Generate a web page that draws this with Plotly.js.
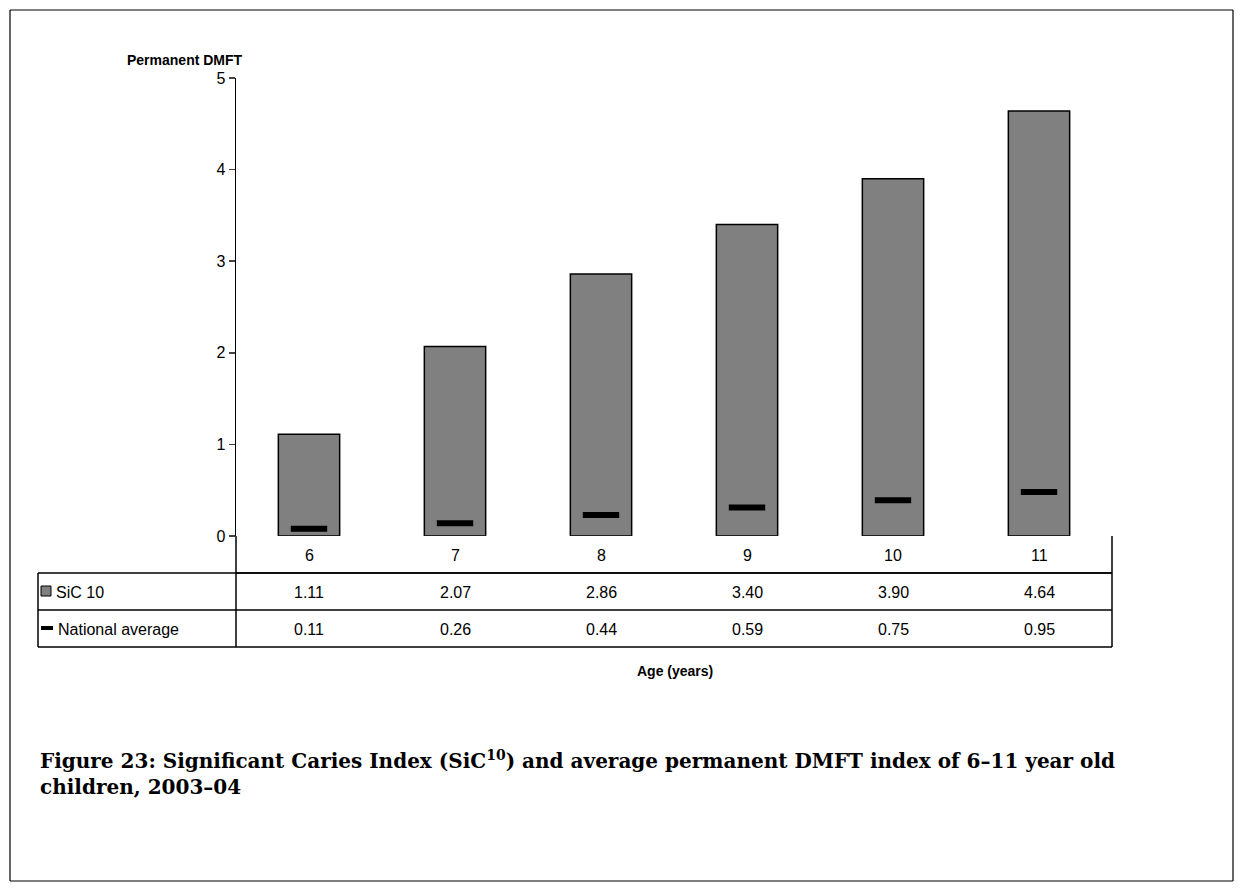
<!DOCTYPE html>
<html><head><script src="https://cdn.plot.ly/plotly-3.0.1.min.js"></script>
<style>body{margin:0;background:#fff}</style></head><body>
<div id="c" style="width:1244px;height:892px"></div>
<script>
const ages = ['6','7','8','9','10','11'];
const sic10 = [1.11, 2.07, 2.86, 3.40, 3.90, 4.64];
const nationalAvg = [0.11, 0.26, 0.44, 0.59, 0.75, 0.95];
// marker heights as drawn in the picture
const nationalMarker = [0.08, 0.14, 0.23, 0.31, 0.39, 0.48];
const seriesNames = ['SiC 10', 'National average'];

const W=876, H=458, X0=236, Y0=536;
const px = x => (x - X0) / W;
const py = y => (Y0 - y) / H;
const idx = ages.map((_, i) => i);
const F = 'Liberation Sans, Arial, sans-serif';

const traces = [
  {type:'bar', x:idx, y:sic10, width:0.42, marker:{color:'#808080', line:{color:'#000', width:1.5}}, hoverinfo:'y'},
  {type:'scatter', mode:'markers', x:idx, y:nationalMarker,
   marker:{symbol:'line-ew', size:26, line:{color:'#000', width:6}}}
];
const L = (x0,y0,x1,y1,w) => ({type:'line', xref:'paper', yref:'paper', x0:px(x0), y0:py(y0), x1:px(x1), y1:py(y1), line:{color:'#000', width:w||1.5}});
const shapes = [
  L(10,10,1233,10,1.2), L(10,881,1233,881,1.2), L(10,10,10,881,1.2), L(1233,10,1233,881,1.2),
  L(236,536,236,647), L(1112,536,1112,647), L(236,573,1112,573), L(38,573,1112,573),
  L(38,610,1112,610), L(38,647,1112,647), L(38,573,38,647),
  {type:'rect', xref:'paper', yref:'paper', x0:px(41), x1:px(51), y0:py(586), y1:py(596), fillcolor:'#808080', line:{color:'#000', width:1}},
  {type:'line', xref:'paper', yref:'paper', x0:px(41), x1:px(53), y0:py(628), y1:py(628), line:{color:'#000', width:4}}
];
const ann = [];
const A = (x,y,t,o) => ann.push(Object.assign({xref:'paper', yref:'paper', x:px(x), y:py(y), xanchor:'center', yanchor:'middle', text:t, showarrow:false, font:{family:F, size:16, color:'#000'}}, o||{}));
ages.forEach((a,i) => {
  const cx = X0 + W*(i+0.5)/6;
  A(cx, 555, a);
  A(cx, 592, sic10[i].toFixed(2));
  A(cx, 629, nationalAvg[i].toFixed(2));
});
A(54, 592, seriesNames[0], {xanchor:'left'});
A(56, 629, seriesNames[1], {xanchor:'left'});
A(185, 60, '<b>Permanent DMFT</b>', {font:{family:F, size:14, color:'#000'}});
A(675, 671, '<b>Age (years)</b>', {font:{family:F, size:14, color:'#000'}});
A(38, 773, '<b>Figure 23: Significant Caries Index (SiC<sup>10</sup>) and average permanent DMFT index of 6–11 year old<br>children, 2003–04</b>',
  {xanchor:'left', align:'left', font:{family:'DejaVu Serif, serif', size:20, color:'#000'}});

Plotly.newPlot('c', traces, {
  width:1244, height:892, showlegend:false, paper_bgcolor:'#fff', plot_bgcolor:'#fff',
  margin:{l:236, r:132, t:78, b:356},
  xaxis:{range:[-0.5,5.5], showticklabels:false, ticks:'', showgrid:false, zeroline:false, showline:false, fixedrange:true},
  yaxis:{range:[0,5], dtick:1, ticks:'outside', ticklen:6, tickwidth:1.5, showgrid:false, zeroline:false, showline:true, linecolor:'#000', linewidth:1.5, tickfont:{family:F, size:16, color:'#000'}},
  shapes:shapes, annotations:ann
}, {staticPlot:true});
</script></body></html>
